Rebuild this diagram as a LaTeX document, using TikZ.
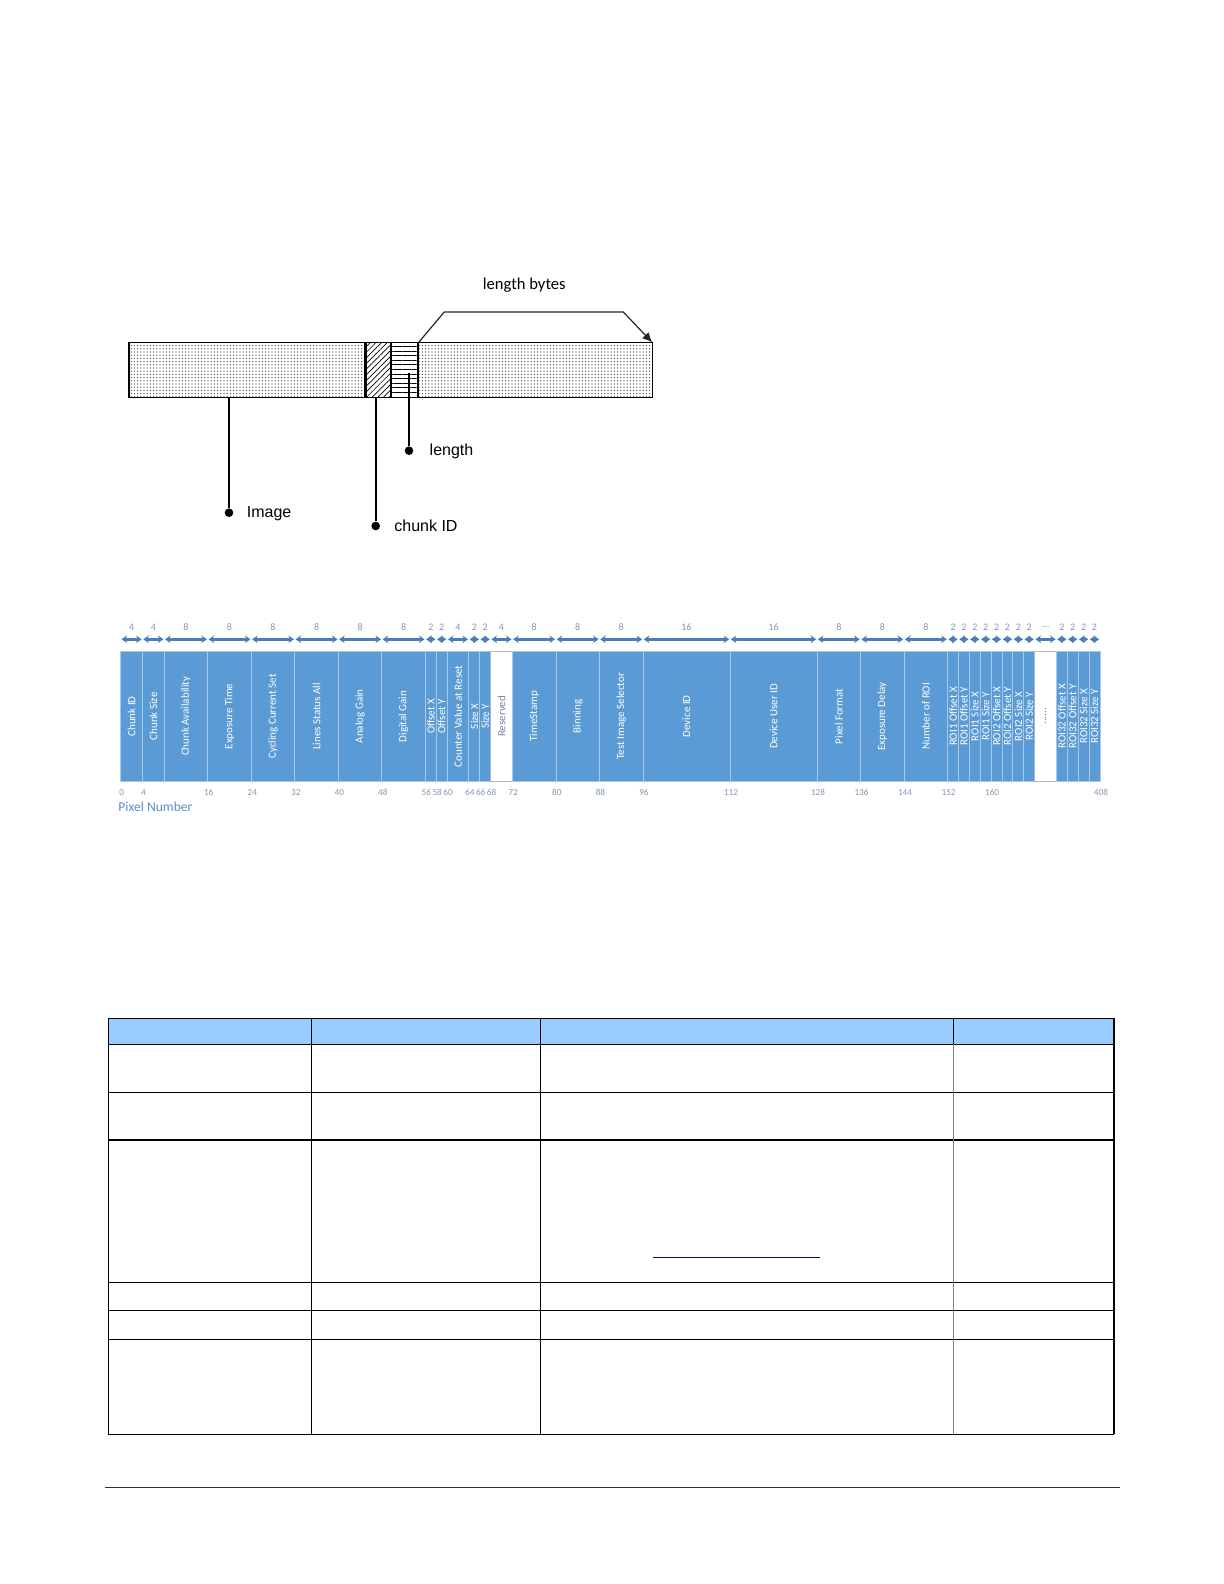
\documentclass[tikz,border=0pt]{standalone}
\usepackage{fontspec}
\setmainfont{Liberation Sans}
\newfontfamily\calib{Carlito}
\usepackage{graphicx}
\usetikzlibrary{patterns.meta}
\usetikzlibrary{arrows.meta}
\usetikzlibrary{calc}

\definecolor{fieldblue}{HTML}{5B9BD5}
\definecolor{fieldline}{HTML}{A9C9EA}
\definecolor{arrblue}{HTML}{4A7EBB}
\definecolor{numgray}{HTML}{8097B1}
\definecolor{pnblue}{HTML}{5B8FC9}
\definecolor{resline}{HTML}{A3B8CF}
\definecolor{restext}{HTML}{6F87A8}
\definecolor{hdrblue}{HTML}{99CCFF}
\definecolor{linkblue}{HTML}{000080}

\newcommand{\roidots}{......}
\newcommand{\roiskip}{...}

\tikzset{
  fld/.style={rectangle, fill=fieldblue, draw=fieldline, line width=0.4pt,
    inner sep=0pt, outer sep=0pt, minimum height=64.65pt, text=white,
    font=\calib\fontsize{5.5}{6}\selectfont},
  fldw/.style={fld, fill=white, draw=resline, text=restext},
  dimarr/.style={arrblue, line width=1.4pt,
    {Stealth[length=2.8pt,width=3.8pt]}-{Stealth[length=2.8pt,width=3.8pt]},
    shorten <=0.4pt, shorten >=0.4pt},
  numlab/.style={text=numgray, font=\calib\fontsize{5}{6}\selectfont, inner sep=0pt},
  pixlab/.style={numlab, font=\calib\fontsize{4.6}{5.5}\selectfont},
  dotpat/.style={pattern={Dots[distance=1.6pt, radius=0.34pt]}, pattern color=black!70},
  dot/.style={circle, fill=black, inner sep=0pt, minimum size=4.3pt},
  leader/.style={line width=1pt},
  lab/.style={font=\fontsize{8}{9}\selectfont, inner sep=0pt},
  tblline/.style={line width=0.7pt, black},
}

\begin{document}
\begin{tikzpicture}[x=0.5pt, y=-0.5pt]
        \useasboundingbox (0,0) rectangle (1224,1584);

        % chunk layout
        \filldraw[dotpat, draw=black, line width=0.6pt] (129,342.5) rectangle (365,397.7);
        \filldraw[pattern={Lines[angle=45, distance=2pt, line width=0.35pt]}, draw=black, line width=0.6pt] (365,342.5) rectangle (391,397.7);
        \filldraw[pattern={Lines[angle=0, distance=2.3pt, line width=0.5pt]}, draw=black, line width=0.6pt] (391,342.5) rectangle (418,397.7);
        \filldraw[dotpat, draw=black, line width=0.6pt] (418,342.5) rectangle (652.3,397.7);
        \draw[line width=1.5pt] (365,342.5) -- (365,397.7);

        \coordinate (brA) at (418.5,342.5);
        \coordinate (brB) at (444.3,312);
        \coordinate (brC) at (623.3,312);
        \coordinate (brD) at (652.3,342.5);
        \draw[black!85, line width=0.6pt, -{Latex[length=5pt,width=4.5pt]}] (brA) -- (brB) -- (brC) -- (brD);
        \node[font=\calib\fontsize{8.3}{9}\selectfont, inner sep=0pt] (lbytes) at (524.3,285.5) {length bytes};

        \coordinate (pimg) at (229,397.7);
        \node[dot] (dimg) at (229,512.7) {};
        \draw[leader] (pimg) -- (dimg);
        \node[lab, anchor=base west] (limg) at (246.5,517.5) {Image};

        \coordinate (pcid) at (375.7,397.7);
        \node[dot] (dcid) at (375.7,526) {};
        \draw[leader] (pcid) -- (dcid);
        \node[lab, anchor=base west] (lcid) at (394,531.5) {chunk ID};

        \coordinate (plen) at (409,372.7);
        \node[dot] (dlen) at (409,450.7) {};
        \draw[leader] (plen) -- (dlen);
        \node[lab, anchor=base west] (llen) at (429.3,455.5) {length};

        % pixel fields
        \foreach \fa/\fb/\lbl/\sz/\sty in {
            0/4/Chunk ID/4/fld, 4/8/Chunk Size/4/fld, 8/16/Chunk Availability/8/fld,
            16/24/Exposure Time/8/fld, 24/32/Cycling Current Set/8/fld,
            32/40/Lines Status All/8/fld, 40/48/Analog Gain/8/fld,
            48/56/Digital Gain/8/fld, 56/58/Offset X/2/fld, 58/60/Offset Y/2/fld,
            60/64/Counter Value at Reset/4/fld, 64/66/Size X/2/fld, 66/68/Size Y/2/fld,
            68/72/Reserved/4/fldw, 72/80/TimeStamp/8/fld, 80/88/Binning/8/fld,
            88/96/Test Image Selector/8/fld, 96/112/Device ID/16/fld,
            112/128/Device User ID/16/fld, 128/136/Pixel Format/8/fld,
            136/144/Exposure Delay/8/fld, 144/152/Number of ROI/8/fld,
            152/154/ROI1 Offset X/2/fld, 154/156/ROI1 Offset Y/2/fld,
            156/158/ROI1 Size X/2/fld, 158/160/ROI1 Size Y/2/fld,
            160/162/ROI2 Offset X/2/fld, 162/164/ROI2 Offset Y/2/fld,
            164/166/ROI2 Size X/2/fld, 166/168/ROI2 Size Y/2/fld,
            168/172/\roidots/\roiskip/fldw,
            172/174/ROI32 Offset X/2/fld, 174/176/ROI32 Offset Y/2/fld,
            176/178/ROI32 Size X/2/fld, 178/180/ROI32 Size Y/2/fld}
        {
            \pgfmathsetmacro\cx{120.7+(\fa+\fb)*2.72}
            \pgfmathsetmacro\fw{(\fb-\fa)*2.72}
            \node[\sty, minimum width=\fw pt] (f\fa) at (\cx,716.35) {\rotatebox{90}{\lbl}};
            \draw[dimarr] ([yshift=6.2pt]f\fa.north west) -- ([yshift=6.2pt]f\fa.north east);
            \node[numlab] (n\fa) at ([yshift=12.2pt]f\fa.north) {\sz};
        }

        \foreach \p/\v in {0/0, 4/4, 16/16, 24/24, 32/32, 40/40, 48/48, 56/56, 58/58, 60/60,
            64/64, 66/66, 68/68, 72/72, 80/80, 88/88, 96/96, 112/112, 128/128, 136/136,
            144/144, 152/152, 160/160, 180/408}
            \node[pixlab] (p\p) at (121.7+\p*5.44,792.7) {\v};

        \node[anchor=west, text=pnblue, font=\calib\fontsize{6.8}{8}\selectfont, inner sep=0pt] (pixnum) at (118,807) {Pixel Number};

        % table
        \fill[hdrblue] (108.3,1018.3) rectangle (1114,1044.3);
        \foreach \ry in {1018.3,1044.3,1092.3,1140,1282.3,1310.3,1339.3,1434.3}
            \draw[tblline] (108.3,\ry) -- (1114,\ry);
        \foreach \rx in {108.3,311.7,540.4,1114}
            \draw[tblline] (\rx,1018.3) -- (\rx,1434.3);
        \draw[tblline] (953.6,1018.3) -- (953.6,1044.3);
        \draw[line width=0.6pt, gray] (953.6,1044.3) -- (953.6,1434.3);
        \draw[linkblue, line width=0.6pt] (652.8,1257.3) -- (819.8,1257.3);

        \draw[line width=0.5pt, black!80] (105,1487.5) -- (1120,1487.5);
\end{tikzpicture}
\end{document}
